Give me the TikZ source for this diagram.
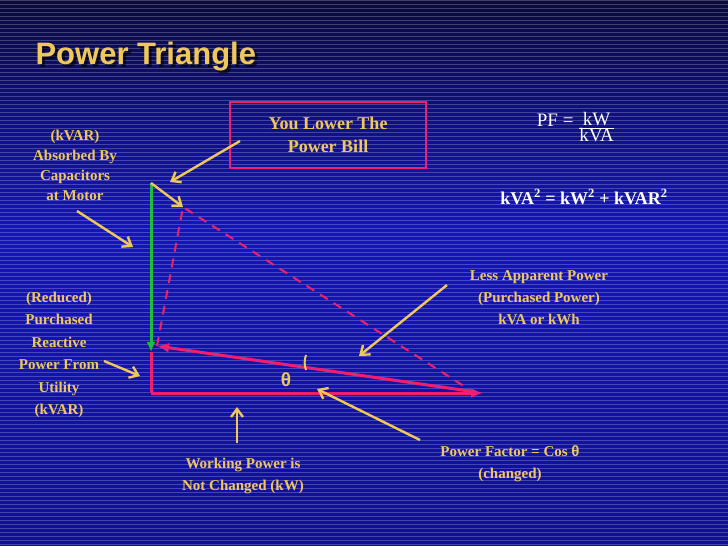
\documentclass[tikz,border=0pt]{standalone}
\usepackage{fontspec}
\setmainfont{Liberation Serif}
\newfontfamily\hd{Liberation Sans}
\usetikzlibrary{arrows.meta}
\definecolor{ylw}{RGB}{240,200,90}
\definecolor{pnk}{RGB}{240,30,110}
\definecolor{grn}{RGB}{30,190,60}
\definecolor{topb}{RGB}{10,10,60}
\definecolor{midb}{RGB}{20,20,190}
\definecolor{botb}{RGB}{15,15,150}
\tikzset{
 lab/.style={text=ylw,font=\bfseries\fontsize{15}{20}\selectfont,align=center,inner sep=1pt},
 ya/.style={draw=ylw,line width=2.4pt,-{Straight Barb[length=8pt,width=12pt]}},
 red/.style={draw=pnk,line width=3pt},
 dsh/.style={draw=pnk,line width=2pt,dash pattern=on 9pt off 7pt},
}
\begin{document}
\begin{tikzpicture}[x=1pt,y=-1pt]
\useasboundingbox (0,0) rectangle (728,546);
\shade[top color=topb,bottom color=midb] (0,0) rectangle (728,230);
\shade[top color=midb,bottom color=botb] (0,230) rectangle (728,546);
\foreach \i in {0,4,...,544} {\draw[white,opacity=0.22,line width=0.5pt] (0,\i) -- (728,\i);}
\node[anchor=west,text=black,opacity=0.6,font=\hd\bfseries\fontsize{31}{36}\selectfont] at (35,60) {Power Triangle};
\node[anchor=west,text=ylw,font=\hd\bfseries\fontsize{31}{36}\selectfont] (title) at (32,57) {Power Triangle};
% triangle
\coordinate (O) at (151,393);
\coordinate (M) at (151,352);
\coordinate (T) at (151,183);
\coordinate (E) at (483,393);
\coordinate (H1) at (476,392);
\coordinate (H2) at (157,346);
\coordinate (D) at (183,207);
\coordinate (D2) at (470,390);
\draw[dsh] (H2) -- (D) -- (D2);
\draw[red,-{Latex[length=12pt,width=10pt]}] (O) -- (E);
\draw[red] (O) -- (M);
\draw[grn,line width=3pt,-{Latex[length=10pt,width=9pt]}] (T) -- (M);
\draw[red,-{Latex[length=12pt,width=10pt]}] (H1) -- (H2);
\node[text=ylw,font=\hd\bfseries\fontsize{19}{22}\selectfont] (th) at (286,380) {θ};
\draw[ylw,line width=2pt] (306,370) arc[start angle=160,end angle=200,radius=22];
% box
\node[draw=pnk,line width=1.5pt,minimum width=196,minimum height=66,lab,font=\bfseries\fontsize{18}{23}\selectfont] (box) at (328,135) {You Lower The\\Power Bill};
% formulas
\node[text=white,font=\fontsize{19}{22}\selectfont] (pf) at (576,127) {PF = \raisebox{-0.6ex}{$\frac{\mbox{kW}}{\mbox{kVA}}$}};
\node[text=white,font=\bfseries\fontsize{18}{22}\selectfont] (eq) at (584,197) {kVA\textsuperscript{2} = kW\textsuperscript{2} + kVAR\textsuperscript{2}};
% labels
\node[lab] (l1) at (75,165) {(kVAR)\\Absorbed By\\Capacitors\\at Motor};
\node[lab,font=\bfseries\fontsize{15}{22.5}\selectfont] (l2) at (59,355) {(Reduced)\\Purchased\\Reactive\\Power From\\Utility\\(kVAR)};
\node[lab,font=\bfseries\fontsize{15}{22}\selectfont] (l3) at (539,298) {Less Apparent Power\\(Purchased Power)\\kVA or kWh};
\node[lab,font=\bfseries\fontsize{15}{22}\selectfont] (l4) at (510,464) {Power Factor = Cos {\hd θ}\\(changed)};
\node[lab,font=\bfseries\fontsize{15}{22}\selectfont] (l5) at (243,476) {Working Power is\\Not Changed (kW)};
% arrows
\coordinate (a1s) at (77,211); \coordinate (a1e) at (133,247);
\draw[ya] (a1s) -- (a1e);
\coordinate (a2s) at (240,141); \coordinate (a2e) at (170,182);
\draw[ya] (a2s) -- (a2e);
\draw[ya] (T) -- (D);
\coordinate (a3s) at (104,361); \coordinate (a3e) at (140,376);
\draw[ya] (a3s) -- (a3e);
\coordinate (a4s) at (447,285); \coordinate (a4e) at (359,356);
\draw[ya] (a4s) -- (a4e);
\coordinate (a5s) at (420,440); \coordinate (a5e) at (317,389);
\draw[ya] (a5s) -- (a5e);
\coordinate (a6s) at (237,443); \coordinate (a6e) at (237,407);
\draw[ya] (a6s) -- (a6e);
\end{tikzpicture}
\end{document}
